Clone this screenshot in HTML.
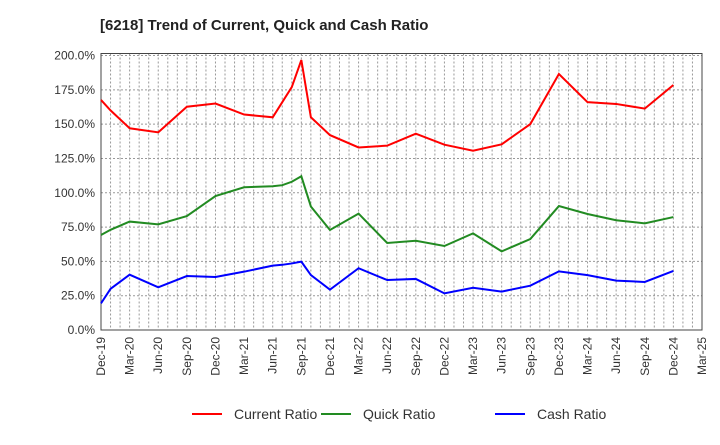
<!DOCTYPE html>
<html><head><meta charset="utf-8"><style>
body{margin:0;background:#fff;font-family:"Liberation Sans",sans-serif}
</style></head><body>
<svg width="720" height="440" xmlns="http://www.w3.org/2000/svg" font-family="Liberation Sans, sans-serif">
<text x="100" y="30" font-size="15" font-weight="bold" fill="#222">[6218]  Trend of Current, Quick and Cash Ratio</text>
<g id="grid"></g><g id="axes"></g><g id="series"></g><g id="legend"></g>
</svg>
<script>
const months=[0,1,3,6,9,12,15,18,19,20,21,22,24,27,30,33,36,39,42,45,48,51,54,57,60];
const current=[167.6,160,147,144,162.7,165,157,155,166,177,196.7,155,142,133,134.3,143,135,130.6,135.3,150,186.5,166,164.7,161.3,178.5];
const quick=[69.2,73,79,77,83,97.6,104,104.7,105.5,108,112,90,72.9,84.8,63.4,65,61.2,70.4,57.3,66.3,90.3,84.5,80,77.7,82.3];
const cash=[19.4,30,40.3,31.1,39.3,38.6,42.5,46.9,47.5,48.5,49.8,40,29.4,45,36.4,37.2,26.7,30.8,28,32.3,42.7,40,36,35,43];
const xLabels=["Dec-19","Mar-20","Jun-20","Sep-20","Dec-20","Mar-21","Jun-21","Sep-21","Dec-21","Mar-22","Jun-22","Sep-22","Dec-22","Mar-23","Jun-23","Sep-23","Dec-23","Mar-24","Jun-24","Sep-24","Dec-24","Mar-25"];
const yTicks=[0,25,50,75,100,125,150,175,200];
const NS="http://www.w3.org/2000/svg";
const L=101,R=702,T=55.5,B=330,MAXM=63;
const xs=m=>L+(R-L)*m/MAXM;
const ys=v=>B-(B-T)*v/200;
function mk(t,a,p){const e=document.createElementNS(NS,t);for(const k in a)e.setAttribute(k,a[k]);p.appendChild(e);return e;}
const grid=document.getElementById('grid'),axes=document.getElementById('axes'),ser=document.getElementById('series'),leg=document.getElementById('legend');
for(let m=1;m<MAXM;m++){const l=mk('line',{x1:xs(m),x2:xs(m),y1:T-2,y2:B,stroke:'#999','stroke-width':1,'stroke-dasharray':'2,2'},grid);

}
yTicks.forEach(v=>{const l=mk('line',{x1:L,x2:R,y1:ys(v),y2:ys(v),stroke:'#999','stroke-width':1,'stroke-dasharray':'2,2'},grid);


const t=mk('text',{x:L-6,y:ys(v)+4,'text-anchor':'end','font-size':12,fill:'#333'},axes);t.textContent=v.toFixed(1)+'%';

});
const fr=mk('rect',{x:L,y:T-2,width:R-L,height:B-T+2,fill:'none',stroke:'#444','stroke-width':1},axes);


xLabels.forEach((s,i)=>{const x=xs(i*3);const t=mk('text',{transform:`translate(${x+4},${B+7}) rotate(-90)`,'text-anchor':'end','font-size':12,fill:'#333'},axes);t.textContent=s;

});
const S=[[current,'#ff0000','Current Ratio','current-ratio-line'],[quick,'#228b22','Quick Ratio','quick-ratio-line'],[cash,'#0000ff','Cash Ratio','cash-ratio-line']];
S.forEach(([d,c,n,id],k)=>{const p=mk('polyline',{points:d.map((v,i)=>xs(months[i])+','+ys(v)).join(' '),fill:'none',stroke:c,'stroke-width':2},ser);


const lx=[192,321,495][k];
const ll=mk('line',{x1:lx,x2:lx+30,y1:414,y2:414,stroke:c,'stroke-width':2},leg);


const lt=mk('text',{x:lx+42,y:419,'font-size':14,fill:'#333'},leg);lt.textContent=n;

});
</script>
</body></html>
